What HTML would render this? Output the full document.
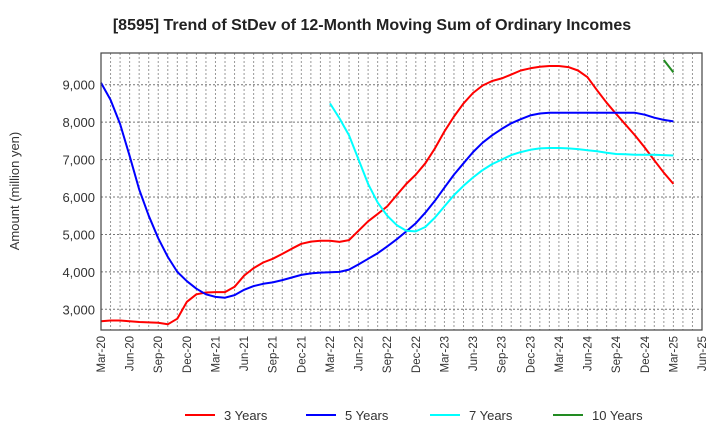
<!DOCTYPE html>
<html><head><meta charset="utf-8"><style>
body{margin:0;background:#fff;font-family:"Liberation Sans",sans-serif;}
svg text{font-family:"Liberation Sans",sans-serif;}
</style></head><body>
<svg id="chart" width="720" height="440" xmlns="http://www.w3.org/2000/svg">
<text x="372" y="30" text-anchor="middle" font-size="16" font-weight="bold" fill="#222">[8595]  Trend of StDev of 12-Month Moving Sum of Ordinary Incomes</text>
<text transform="translate(19,191) rotate(-90)" text-anchor="middle" font-size="13" fill="#333">Amount (million yen)</text>
<g id="grid"></g><g id="series"></g><g id="axes"></g><g id="legend"></g>
</svg>
<script>
const xTickLabels=["Mar-20","Jun-20","Sep-20","Dec-20","Mar-21","Jun-21","Sep-21","Dec-21","Mar-22","Jun-22","Sep-22","Dec-22","Mar-23","Jun-23","Sep-23","Dec-23","Mar-24","Jun-24","Sep-24","Dec-24","Mar-25","Jun-25"];
const yTicks=[3000,4000,5000,6000,7000,8000,9000];
const yTickLabels=["3,000","4,000","5,000","6,000","7,000","8,000","9,000"];
const seriesNames=["3 Years","5 Years","7 Years","10 Years"];
const seriesColors=["#ff0000","#0000ff","#00ffff","#228b22"];
const seriesStart=[0,0,24,59];
const s3=[2680,2700,2700,2680,2660,2650,2640,2600,2750,3200,3400,3450,3460,3460,3600,3900,4100,4250,4350,4480,4620,4750,4810,4830,4830,4800,4850,5100,5350,5550,5750,6050,6350,6600,6900,7300,7750,8150,8500,8780,8980,9100,9170,9270,9380,9440,9480,9500,9500,9470,9380,9200,8850,8520,8220,7930,7640,7320,6980,6650,6350];
const s5=[9050,8600,7950,7100,6200,5500,4900,4400,4000,3750,3550,3400,3330,3310,3380,3520,3620,3680,3720,3780,3850,3920,3960,3980,3990,4000,4060,4200,4350,4500,4680,4870,5080,5300,5580,5900,6250,6600,6900,7200,7450,7650,7820,7970,8080,8180,8230,8250,8250,8250,8250,8250,8250,8250,8250,8250,8250,8200,8120,8060,8020];
const s7=[8500,8100,7650,7000,6350,5850,5500,5250,5100,5080,5200,5450,5750,6050,6300,6520,6720,6880,7000,7120,7200,7260,7300,7310,7310,7300,7280,7250,7220,7180,7150,7140,7130,7130,7130,7120,7110];
const s10=[9660,9330];
const allSeries=[s3,s5,s7,s10];
const NS="http://www.w3.org/2000/svg";
const L=101,R=702,T=53,B=330,nMonths=63;
const x=m=>L+(R-L)*m/nMonths;
const y=v=>309.3-(v-3000)*37.43/1000;
function mk(tag,attrs,parent){const e=document.createElementNS(NS,tag);for(const k in attrs)e.setAttribute(k,attrs[k]);parent.appendChild(e);return e;}
const grid=document.getElementById('grid'),axes=document.getElementById('axes'),ser=document.getElementById('series'),leg=document.getElementById('legend');
for(let m=1;m<nMonths;m++){const g=mk('line',{x1:x(m),x2:x(m),y1:T,y2:B,stroke:'#999','stroke-dasharray':'2,2','stroke-width':1},grid);

}
yTicks.forEach((v,i)=>{const g=mk('line',{x1:L,x2:R,y1:y(v),y2:y(v),stroke:'#777','stroke-dasharray':'2,2','stroke-width':1},grid);


const t=mk('text',{x:L-6,y:y(v)+5,'text-anchor':'end','font-size':13,fill:'#333'},axes);t.textContent=yTickLabels[i];

});
xTickLabels.forEach((lab,i)=>{const xx=x(i*3);const t=mk('text',{transform:`translate(${xx+4},336) rotate(-90)`,'text-anchor':'end','font-size':11.5,fill:'#333'},axes);t.textContent=lab;

});
const frame=mk('rect',{x:L,y:T,width:R-L,height:B-T,fill:'none',stroke:'#444','stroke-width':1.2},axes);


allSeries.forEach((s,k)=>{const pts=s.map((v,i)=>x(seriesStart[k]+i).toFixed(1)+','+y(v).toFixed(1)).join(' ');
const p=mk('polyline',{points:pts,fill:'none',stroke:seriesColors[k],'stroke-width':2,'stroke-linejoin':'round'},ser);

});
const legX=[185,306,430,553];
seriesNames.forEach((n,k)=>{const g=mk('g',{},leg);


mk('line',{x1:legX[k],x2:legX[k]+30,y1:415,y2:415,stroke:seriesColors[k],'stroke-width':2},g);
const t=mk('text',{x:legX[k]+39,y:420,'font-size':13,fill:'#333'},g);t.textContent=n;});
</script>
</body></html>
